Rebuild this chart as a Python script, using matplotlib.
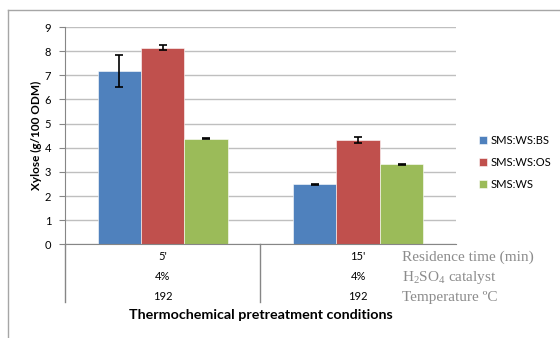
import matplotlib
matplotlib.use("Agg")
import matplotlib.pyplot as plt
from matplotlib.lines import Line2D
import numpy as np

plt.rcParams["font.family"] = ["Lato", "DejaVu Sans"]
plt.rcParams["mathtext.fontset"] = "custom"
plt.rcParams["mathtext.rm"] = "Liberation Serif"

# データ
groups = ["SMS:WS:BS", "SMS:WS:OS", "SMS:WS"]
colors = ["#4f81bd", "#c0504d", "#9bbb59"]
xylose = {
    "SMS:WS:BS": [7.18, 2.48],
    "SMS:WS:OS": [8.14, 4.31],
    "SMS:WS": [4.37, 3.32],
}
errors = {
    "SMS:WS:BS": [0.68, 0.03],
    "SMS:WS:OS": [0.10, 0.12],
    "SMS:WS": [0.02, 0.02],
}
res_time = ["5'", "15'"]
catalyst = ["4%", "4%"]
temperature = ["192", "192"]
row_names = ["Residence time (min)", "H$_\\mathregular{2}$SO$_\\mathregular{4}$ catalyst", "Temperature ºC"]

fig = plt.figure(figsize=(5.6, 3.38), dpi=100)
ax = fig.add_axes([0.116, 0.277, 0.698, 0.643])

x = np.arange(len(res_time))
width = 0.222
for i, g in enumerate(groups):
    ax.bar(x + (i - 1) * width, xylose[g], width, color=colors[i], label=g,
           edgecolor="white", linewidth=0.4, zorder=2)
    ax.errorbar(x + (i - 1) * width, xylose[g], yerr=errors[g], fmt="none",
                ecolor="black", elinewidth=1.2, capsize=3, capthick=1.2, zorder=3)

ax.set_xlim(-0.5, 1.5)
ax.set_ylim(0, 9)
ax.set_yticks(range(0, 10))
ax.yaxis.grid(True, color="#bfbfbf", linewidth=1)
ax.set_axisbelow(True)
for s in ["top", "right"]:
    ax.spines[s].set_visible(False)
ax.spines["left"].set_color("#868686")
ax.spines["bottom"].set_color("#868686")
ax.tick_params(axis="y", length=4, color="#868686", labelsize=8, pad=6)
ax.set_xticks([])

# カテゴリ表
tr = ax.get_xaxis_transform()
for xv in [-0.5, 0.5]:
    ax.plot([xv, xv], [0, -0.266], color="#868686", linewidth=1,
            transform=tr, clip_on=False)
rows_y = [-0.054, -0.146, -0.238]
for row, yy in zip([res_time, catalyst, temperature], rows_y):
    for xv, t in zip(x, row):
        ax.text(xv, yy, t, transform=tr, ha="center", va="center", fontsize=8)
for name, yy in zip(row_names, rows_y):
    ax.text(1.224, yy - 0.005, name, transform=tr, ha="left", va="center",
            fontsize=11, color="#8c8c8c", family="Liberation Serif")

ax.text(0.5, -0.325, "Thermochemical pretreatment conditions", transform=ax.transAxes,
        ha="center", va="center", fontsize=10.3, fontweight="bold")
ax.text(-0.074, 0.5, "Xylose (g/100 ODM)", transform=ax.transAxes, rotation=90,
        ha="center", va="center", fontsize=8.5, fontweight="bold")

ax.legend(loc="center left", bbox_to_anchor=(0.838, 0.52), bbox_transform=fig.transFigure,
          frameon=False, fontsize=8, handlelength=0.7, handleheight=0.7,
          handletextpad=0.3, labelspacing=1.0)

# 外枠
fig.add_artist(Line2D([8 / 560, 8 / 560], [0, 1 - 10 / 338], color="#a6a6a6", linewidth=1))
fig.add_artist(Line2D([8 / 560, 1], [1 - 10 / 338, 1 - 10 / 338], color="#a6a6a6", linewidth=1))

plt.savefig("out.png", dpi=100)
plt.close()
